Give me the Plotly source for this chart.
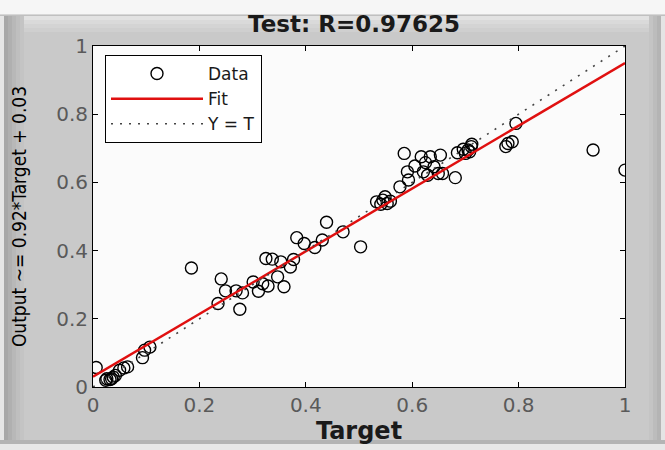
import plotly.graph_objects as go

# ---- data ----
target = [0.006, 0.024, 0.026, 0.032, 0.035, 0.038, 0.042, 0.050, 0.058, 0.065,
          0.093, 0.097, 0.107, 0.185, 0.235, 0.241, 0.249, 0.269, 0.276, 0.281,
          0.301, 0.311, 0.319, 0.325, 0.329, 0.337, 0.347, 0.353, 0.359, 0.371,
          0.377, 0.383, 0.397, 0.417, 0.431, 0.439, 0.470, 0.503, 0.533, 0.541,
          0.545, 0.549, 0.553, 0.559, 0.577, 0.585, 0.591, 0.593, 0.605, 0.617,
          0.621, 0.625, 0.629, 0.634, 0.641, 0.649, 0.653, 0.657, 0.681, 0.685,
          0.696, 0.700, 0.705, 0.708, 0.711, 0.712, 0.776, 0.780, 0.788, 0.795,
          0.940, 1.000]
output = [0.057, 0.020, 0.024, 0.022, 0.024, 0.029, 0.034, 0.049, 0.056, 0.059,
          0.086, 0.108, 0.117, 0.349, 0.245, 0.317, 0.282, 0.282, 0.228, 0.276,
          0.308, 0.281, 0.303, 0.377, 0.296, 0.375, 0.323, 0.367, 0.294, 0.352,
          0.374, 0.438, 0.421, 0.409, 0.431, 0.483, 0.455, 0.411, 0.543, 0.536,
          0.548, 0.558, 0.538, 0.545, 0.587, 0.685, 0.631, 0.607, 0.648, 0.675,
          0.631, 0.658, 0.621, 0.675, 0.646, 0.626, 0.680, 0.626, 0.614, 0.687,
          0.697, 0.685, 0.695, 0.690, 0.705, 0.712, 0.705, 0.714, 0.719, 0.773,
          0.695, 0.636]
fit_slope = 0.92
fit_intercept = 0.03
line_x = [0.0, 1.0]
fit_y = [fit_slope * v + fit_intercept for v in line_x]
ident_y = list(line_x)
tick_vals = [0, 0.2, 0.4, 0.6, 0.8, 1]
tick_text = ["0", "0.2", "0.4", "0.6", "0.8", "1"]

W, H = 665, 450
L, R, T, B = 93, 40, 46, 63
PW, PH = W - L - R, H - T - B


def px(p):
    return (p - L) / PW


def py(p):
    return (H - B - p) / PH


fig = go.Figure()
fig.add_trace(go.Scatter(
    x=target, y=output, mode="markers", name="Data",
    marker=dict(symbol="circle-open", size=12, color="black",
                line=dict(width=1.4, color="black"))))
fig.add_trace(go.Scatter(
    x=line_x, y=fit_y, mode="lines", name="Fit",
    line=dict(color="#e01010", width=2.5)))
fig.add_trace(go.Scatter(
    x=line_x, y=ident_y, mode="lines", name="Y = T",
    line=dict(color="#444444", width=1.6, dash="2px,7px")))

shapes = []
# top white strip
shapes.append(dict(type="rect", xref="paper", yref="paper", x0=px(-5), x1=px(W + 5),
                   y0=py(15), y1=py(-5), fillcolor="#f6f6f6", line=dict(width=0), layer="below"))
shapes.append(dict(type="line", xref="paper", yref="paper", x0=px(0), x1=px(W),
                   y0=py(15), y1=py(15), line=dict(color="#b8b8b8", width=1), layer="below"))
# light band under top edge
for i, c in enumerate(["#e2e2e2", "#dadada", "#d4d4d4", "#cfcfcf"]):
    shapes.append(dict(type="rect", xref="paper", yref="paper", x0=px(3), x1=px(W - 3),
                       y0=py(16 + 4 * (i + 1)), y1=py(16 + 4 * i), fillcolor=c,
                       line=dict(width=0), layer="below"))
# left gradient edge
left_cols = ["#e6e6e6", "#a8a8a8", "#b0b0b0", "#b8b8b8", "#bfbfbf", "#c4c4c4"]
for i, c in enumerate(left_cols):
    shapes.append(dict(type="rect", xref="paper", yref="paper", x0=px(4 * i), x1=px(4 * (i + 1)),
                       y0=py(446), y1=py(16), fillcolor=c, line=dict(width=0), layer="below"))
# right edge
right_cols = ["#c4c4c4", "#bcbcbc", "#b4b4b4", "#e4e4e4"]
for i, c in enumerate(right_cols):
    shapes.append(dict(type="rect", xref="paper", yref="paper", x0=px(W - 16 + 4 * i),
                       x1=px(W - 12 + 4 * i), y0=py(446), y1=py(16), fillcolor=c,
                       line=dict(width=0), layer="below"))
# bottom edge
shapes.append(dict(type="rect", xref="paper", yref="paper", x0=px(0), x1=px(W),
                   y0=py(H + 5), y1=py(444), fillcolor="#e8e8e8", line=dict(width=0), layer="below"))
shapes.append(dict(type="rect", xref="paper", yref="paper", x0=px(0), x1=px(W),
                   y0=py(444), y1=py(440), fillcolor="#b4b4b4", line=dict(width=0), layer="below"))

axis_common = dict(range=[0, 1], tickvals=tick_vals, ticktext=tick_text,
                   ticks="inside", ticklen=5, tickcolor="black", tickwidth=1,
                   showline=True, linecolor="black", linewidth=1, mirror="ticks",
                   showgrid=False, zeroline=False,
                   tickfont=dict(family="DejaVu Sans", size=20, color="#5a5a5a"))

fig.update_layout(
    width=W, height=H,
    margin=dict(l=L, r=R, t=T, b=B),
    paper_bgcolor="#c9c9c9",
    plot_bgcolor="#fbfbfb",
    shapes=shapes,
    title=dict(text="<b>Test: R=0.97625</b>", xref="container", x=354 / W, xanchor="center",
               y=1 - 24 / H, yanchor="middle",
               font=dict(family="DejaVu Sans", size=23, color="#1a1a1a")),
    xaxis=dict(**axis_common,
               title=dict(text="<b>Target</b>", standoff=2,
                          font=dict(family="DejaVu Sans", size=24, color="#1a1a1a"))),
    yaxis=dict(**axis_common,
               title=dict(text="Output ~= 0.92*Target + 0.03", standoff=24,
                          font=dict(family="Liberation Sans Narrow, DejaVu Sans Condensed, Liberation Sans",
                                    size=19, color="#000000"))),
    legend=dict(x=px(105), y=py(55), xanchor="left", yanchor="top",
                bgcolor="white", bordercolor="black", borderwidth=1,
                font=dict(family="DejaVu Sans", size=17, color="#1a1a1a"),
                itemwidth=92, tracegroupgap=0),
    showlegend=True,
)

fig.write_html("out.html")
